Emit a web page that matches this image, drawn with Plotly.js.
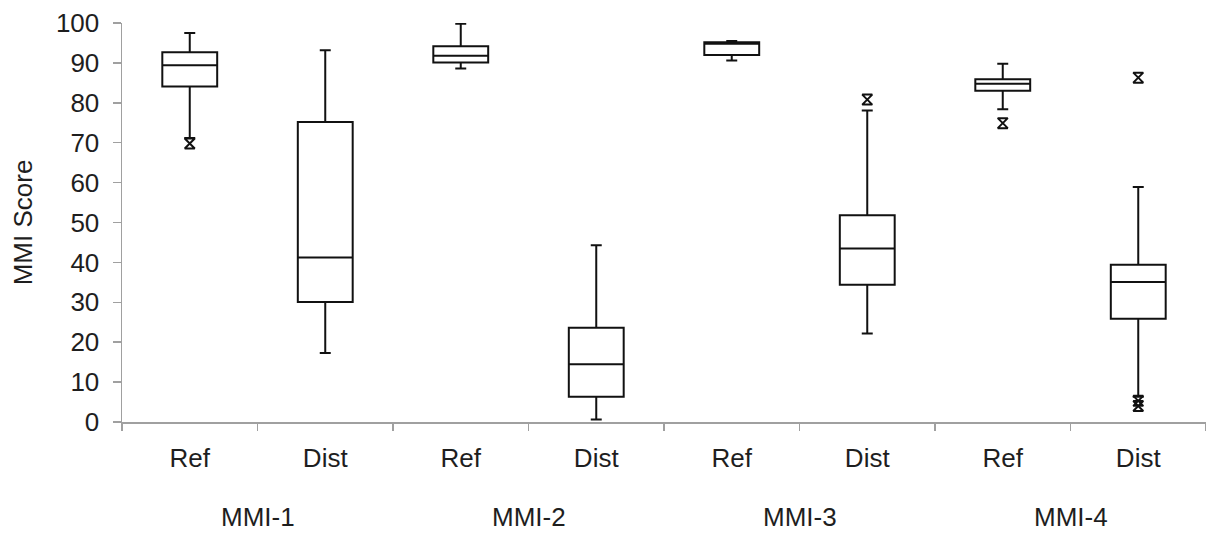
<!DOCTYPE html>
<html>
<head>
<meta charset="utf-8">
<script src="https://cdn.plot.ly/plotly-3.0.1.min.js"></script>
<style>html,body{margin:0;padding:0;background:#fff;}#chart{width:1206px;height:533px;}</style>
</head>
<body>
<div id="chart"></div>
<script>
// Categories (x order)
var groups = ["MMI-1", "MMI-2", "MMI-3", "MMI-4"];
var subLabels = ["Ref", "Dist", "Ref", "Dist", "Ref", "Dist", "Ref", "Dist"];
var positions = [0, 1, 2, 3, 4, 5, 6, 7];

// Box statistics
var upperWhisker = [97.5, 93.2, 99.8, 44.3, 95.5, 78.1, 89.8, 58.9];
var q3Values     = [92.7, 75.2, 94.2, 23.6, 95.2, 51.8, 85.9, 39.4];
var medianValues = [89.4, 41.2, 91.8, 14.5, 94.8, 43.5, 84.8, 35.1];
var q1Values     = [84.1, 30.1, 90.1, 6.3, 92.0, 34.4, 83.0, 25.9];
var lowerWhisker = [71.2, 17.3, 88.6, 0.6, 90.6, 22.2, 78.4, 6.3];

// Outliers (category index, value)
var outlierPos = [0, 5, 6, 7, 7, 7];
var outlierVal = [69.8, 80.8, 74.9, 86.3, 5.3, 4.0];

var yTicks = [0, 10, 20, 30, 40, 50, 60, 70, 80, 90, 100];

var fontFam = "Liberation Sans, Arial, sans-serif";
var txtColor = "#1e1e1e";

var traces = [
  {
    type: "box",
    x: positions,
    q1: q1Values,
    median: medianValues,
    q3: q3Values,
    lowerfence: lowerWhisker,
    upperfence: upperWhisker,
    width: 0.405,
    whiskerwidth: 0.2,
    boxpoints: false,
    fillcolor: "#ffffff",
    line: {color: "#111111", width: 2},
    showlegend: false,
    hoverinfo: "skip"
  },
  {
    type: "scatter",
    mode: "markers",
    x: outlierPos,
    y: outlierVal,
    marker: {symbol: "hourglass-open", size: 10, color: "#111111", line: {width: 2, color: "#111111"}},
    showlegend: false,
    hoverinfo: "skip"
  }
];

var annotations = groups.map(function (g, i) {
  return {
    text: g,
    x: (positions[2 * i] + positions[2 * i + 1]) / 2,
    xref: "x",
    y: 0,
    yref: "paper",
    yanchor: "middle",
    xanchor: "center",
    yshift: -95,
    showarrow: false,
    font: {family: fontFam, size: 26, color: txtColor}
  };
});

var layout = {
  width: 1206,
  height: 533,
  margin: {l: 122, r: 0, t: 22.7, b: 111.3},
  paper_bgcolor: "#ffffff",
  plot_bgcolor: "#ffffff",
  showlegend: false,
  hovermode: false,
  font: {family: fontFam, size: 26, color: txtColor},
  xaxis: {
    range: [-0.5, 7.5],
    tickmode: "array",
    tickvals: positions,
    ticktext: subLabels,
    ticks: "",
    ticklabelstandoff: 12,
    showline: true,
    linecolor: "#a0a0a0",
    linewidth: 1.5,
    showgrid: false,
    zeroline: false,
    tickfont: {family: fontFam, size: 26, color: txtColor},
    minor: {tickmode: "linear", tick0: 0.5, dtick: 1, ticks: "outside", ticklen: 7, tickcolor: "#a0a0a0", tickwidth: 1.5, showgrid: false},
    fixedrange: true
  },
  yaxis: {
    range: [0, 100],
    tickmode: "array",
    tickvals: yTicks,
    ticks: "outside",
    ticklen: 8,
    tickwidth: 1.5,
    tickcolor: "#a0a0a0",
    ticklabelstandoff: 8,
    showline: true,
    linecolor: "#a0a0a0",
    linewidth: 1.5,
    showgrid: false,
    zeroline: false,
    automargin: false,
    tickfont: {family: fontFam, size: 26, color: txtColor},
    title: {text: "MMI Score", standoff: 16, font: {family: fontFam, size: 26, color: txtColor}},
    fixedrange: true
  },
  annotations: annotations
};

Plotly.newPlot("chart", traces, layout, {displayModeBar: false, staticPlot: true});
</script>
</body>
</html>
